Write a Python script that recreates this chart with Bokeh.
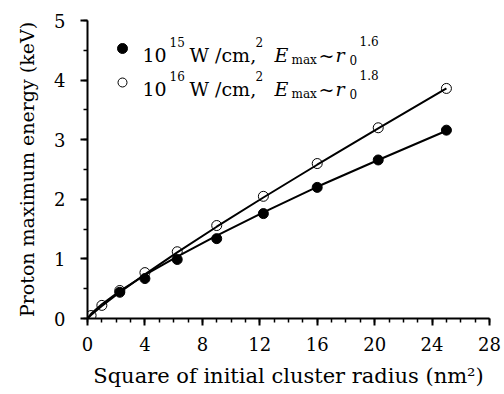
from bokeh.plotting import figure
from bokeh.models import Range1d, Label, FixedTicker
from bokeh.embed import file_html
from bokeh.resources import INLINE

# data (x = square of initial cluster radius, nm^2; y = proton max energy, keV)
x_filled = [2.25, 4, 6.25, 9, 12.25, 16, 20.25, 25]
y_filled = [0.44, 0.67, 0.99, 1.34, 1.76, 2.20, 2.66, 3.16]
x_open = [0.25, 1, 2.25, 4, 6.25, 9, 12.25, 16, 20.25, 25]
y_open = [0.05, 0.22, 0.47, 0.77, 1.12, 1.56, 2.05, 2.60, 3.20, 3.86]
# fitted curves
x_fit = [0, 0.25, 1, 2.25, 4, 6.25, 9, 12.25, 16, 20.25, 25]
y_fit_filled = [0, 0.08, 0.24, 0.46, 0.73, 1.04, 1.39, 1.78, 2.21, 2.66, 3.15]
y_fit_open = [0, 0.06, 0.21, 0.44, 0.74, 1.11, 1.54, 2.03, 2.58, 3.19, 3.86]
x_ticks = [0, 4, 8, 12, 16, 20, 24, 28]
y_ticks = [0, 1, 2, 3, 4, 5]

FONT = "DejaVu Serif"
W, H = 504, 394
L, R, T, B = 87, 15, 20, 76

p = figure(width=W, height=H, output_backend="svg", toolbar_location=None,
           x_range=Range1d(0, 28), y_range=Range1d(0, 5),
           min_border_left=L, min_border_right=R, min_border_top=T, min_border_bottom=B)
p.outline_line_color = None
p.xgrid.visible = False
p.ygrid.visible = False
p.background_fill_color = "white"

for ax in (p.xaxis[0], p.yaxis[0]):
    ax.axis_line_width = 2
    ax.major_tick_line_width = 2
    ax.minor_tick_line_width = 1.5
    ax.major_tick_out = 7
    ax.major_tick_in = 0
    ax.minor_tick_out = 4
    ax.minor_tick_in = 0
    ax.major_label_text_font = FONT
    ax.major_label_text_font_size = "18px"
    ax.major_label_text_color = "black"
    ax.axis_label_text_font = FONT
    ax.axis_label_text_font_style = "normal"
    ax.axis_label_text_color = "black"

p.xaxis[0].axis_label_text_font_size = "21px"
p.yaxis[0].axis_label_text_font_size = "19px"
p.xaxis[0].ticker = FixedTicker(ticks=x_ticks, minor_ticks=list(range(0, 29)))
p.yaxis[0].ticker = FixedTicker(ticks=y_ticks, minor_ticks=[i * 0.5 for i in range(11)])
p.xaxis[0].major_label_standoff = 11
p.yaxis[0].major_label_standoff = 15
p.xaxis[0].axis_label = "Square of initial cluster radius (nm\u00b2)"
p.yaxis[0].axis_label = "Proton maximum energy (keV)"
p.xaxis[0].axis_label_standoff = 10
p.yaxis[0].axis_label_standoff = 13

p.line(x_fit, y_fit_filled, line_color="black", line_width=2)
p.line(x_fit, y_fit_open, line_color="black", line_width=2)
p.scatter(x_filled, y_filled, marker="circle", size=10, fill_color="black", line_color="black")
p.scatter(x_open, y_open, marker="circle", size=10, fill_alpha=0, line_color="black", line_width=1)

# legend drawn manually (pixel layout converted to data coordinates)
def dx(px):
    return (px - L) / (W - L - R) * 28

def dy(py):
    return (H - B - py) / (H - B - T) * 5

exps = ["15", "16"]
pows = ["1.6", "1.8"]
for i in range(2):
    off = 34 * i
    base = 54 + off
    if i == 0:
        p.scatter([dx(122)], [dy(48 + off)], marker="circle", size=10, fill_color="black", line_color="black")
    else:
        p.scatter([dx(122)], [dy(48 + off)], marker="circle", size=9, fill_alpha=0, line_color="black", line_width=1)
    segs = [
        ("10", 142, base, "19px", "normal"),
        (exps[i], 169, base - 13, "12px", "normal"),
        ("W /cm,", 189, base, "19px", "normal"),
        ("2", 255, base - 13, "12px", "normal"),
        ("E", 274, base, "19px", "italic"),
        ("max", 291, base + 5, "12px", "normal"),
        ("~", 318, base, "19px", "normal"),
        ("r", 335, base, "19px", "italic"),
        ("0", 349, base + 5, "12px", "normal"),
        (pows[i], 359, base - 14, "12px", "normal"),
    ]
    for txt, px, py, fs, st in segs:
        p.add_layout(Label(x=dx(px), y=dy(py), text=txt, text_font=FONT,
                           text_font_size=fs, text_font_style=st,
                           text_baseline="alphabetic", text_align="left",
                           text_color="black"))

open("out.html", "w").write(file_html(p, INLINE))
